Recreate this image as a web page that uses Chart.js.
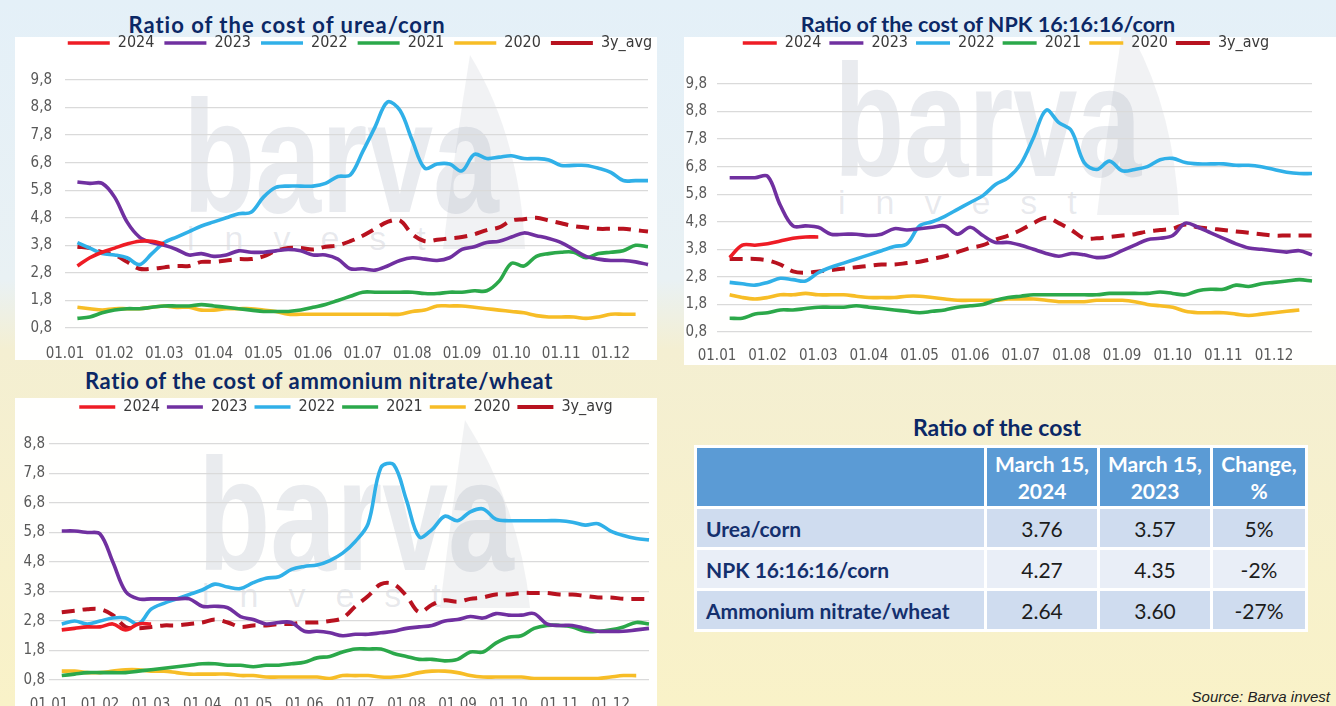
<!DOCTYPE html>
<html>
<head>
<meta charset="utf-8">
<script src="https://cdn.jsdelivr.net/npm/chart.js@4.4.1/dist/chart.umd.min.js"></script>
<style>
  body {
    margin: 0; width: 1336px; height: 706px; overflow: hidden; position: relative;
    background: linear-gradient(to bottom, #e4f0f8 0px, #e9f1f4 280px, #f4efd2 350px, #f9f2c8 706px);
    font-family: Lato, 'Open Sans', sans-serif;
  }
  .panel { position: absolute; background: rgba(255,255,255,0.97); overflow: hidden; }
  .panel svg { position: absolute; left: 0; top: 0; }
  canvas { position: absolute; }
  .title {
    position: absolute; color: #0b2866; font-weight: bold; white-space: nowrap;
    transform: translate(-50%, -50%); font-family: Lato, sans-serif;
  }
  .wm {
    position: absolute; color: rgba(110,120,145,0.15); font-family: 'Liberation Sans', sans-serif;
    font-weight: bold; white-space: nowrap; transform-origin: left top;
  }
  .wm2 {
    position: absolute; color: rgba(110,120,145,0.16); font-family: 'Liberation Sans', sans-serif;
    white-space: nowrap; letter-spacing: 30px;
  }
  table.cost {
    position: absolute; left: 694px; top: 445px; border-collapse: collapse;
    font-family: Lato, sans-serif; font-size: 21px;
  }
  table.cost td { border: 3px solid #fff; padding: 0; }
  table.cost tr.head td {
    background: #5b9bd5; color: #fff; font-weight: bold; text-align: center;
    height: 58px; line-height: 27px; font-size: 21px;
  }
  table.cost td.lab { color: #14306e; font-weight: bold; text-align: left; padding-left: 9px; }
  table.cost td.val { color: #1c1c1c; text-align: center; }
  table.cost tr.r1 td, table.cost tr.r3 td { background: #cfdcef; height: 38px; }
  table.cost tr.r2 td { background: #e9eef7; height: 38px; }
  .source {
    position: absolute; right: 6px; top: 688px; font-family: 'Liberation Sans', sans-serif;
    font-style: italic; font-size: 15px; color: #222;
  }
</style>
</head>
<body>

<div class="panel" style="left:15px; top:37px; width:642px; height:323px;">
  <svg width="642" height="323"><path d="M 455 18 Q 505 100 510 212 L 428 212 Q 440 110 455 18 Z" fill="rgba(120,130,150,0.10)"/></svg>
  <span class="wm" style="left:168px; top:28px; font-size:160px; transform:scaleX(0.74);">barva</span>
  <span class="wm2" style="left:172px; top:182px; font-size:34px;">invest</span>
</div>
<div class="panel" style="left:684px; top:37px; width:652px; height:328px;">
  <svg width="652" height="328"><path d="M 440 -16 Q 490 66 495 178 L 413 178 Q 425 76 440 -16 Z" fill="rgba(120,130,150,0.10)"/></svg>
  <span class="wm" style="left:150px; top:-8px; font-size:160px; transform:scaleX(0.72);">barva</span>
  <span class="wm2" style="left:154px; top:146px; font-size:34px;">invest</span>
</div>
<div class="panel" style="left:15px; top:398px; width:642px; height:308px;">
  <svg width="642" height="308"><path d="M 450 22 Q 505 110 515 210 L 425 210 Q 437 110 450 22 Z" fill="rgba(120,130,150,0.10)"/></svg>
  <span class="wm" style="left:183px; top:25px; font-size:160px; transform:scaleX(0.74);">barva</span>
  <span class="wm2" style="left:187px; top:178px; font-size:34px;">invest</span>
</div>

<div class="title" style="left:287px; top:24px; font-size:22px; letter-spacing:1px;">Ratio of the cost of urea/corn</div>
<div class="title" style="left:988px; top:24px; font-size:21.5px;">Ratio of the cost of NPK 16:16:16/corn</div>
<div class="title" style="left:319px; top:380px; font-size:22px; letter-spacing:0.6px;">Ratio of the cost of ammonium nitrate/wheat</div>
<div class="title" style="left:997px; top:427px; font-size:23px;">Ratio of the cost</div>

<canvas id="ureaChart" width="642" height="335" style="left:15px; top:25px;"></canvas>
<canvas id="npkChart" width="652" height="338" style="left:684px; top:27px;"></canvas>
<canvas id="nitrateChart" width="642" height="314" style="left:15px; top:392px;"></canvas>

<table class="cost">
  <tr class="head">
    <td style="width:287px;"></td>
    <td style="width:110px;">March 15,<br>2024</td>
    <td style="width:110px;">March 15,<br>2023</td>
    <td style="width:92px;">Change,<br>%</td>
  </tr>
  <tr class="r1"><td class="lab">Urea/corn</td><td class="val">3.76</td><td class="val">3.57</td><td class="val">5%</td></tr>
  <tr class="r2"><td class="lab">NPK 16:16:16/corn</td><td class="val">4.27</td><td class="val">4.35</td><td class="val">-2%</td></tr>
  <tr class="r3"><td class="lab">Ammonium nitrate/wheat</td><td class="val">2.64</td><td class="val">3.60</td><td class="val">-27%</td></tr>
</table>

<div class="source">Source: Barva invest</div>

<script>
// weekly points, month labels shown on the 1st
const months = ['01','02','03','04','05','06','07','08','09','10','11','12'];
const weekDays = ['01','08','15','22'];
const seriesNames = ['2024', '2023', '2022', '2021', '2020', '3y_avg'];
const seriesColors = ['#ee1c25', '#7030a0', '#30b0e8', '#2ba84a', '#f7bd26', '#b8121f'];

// --- urea / corn ---
const urea2024 = [null, 3.05,3.35,3.55,3.7,3.85,3.95,3.95,3.85];
const urea2023 = [null, 6.1,6.05,6.05,5.55,4.65,4.1,3.9,3.8,3.65,3.45,3.5,3.4,3.45,3.6,3.55,3.55,3.6,3.65,3.6,3.45,3.45,3.3,2.95,2.95,2.9,3.05,3.25,3.35,3.3,3.25,3.35,3.65,3.75,3.9,3.95,4.1,4.25,4.15,4.05,3.9,3.65,3.4,3.3,3.25,3.25,3.2,3.1];
const urea2022 = [null, 3.9,3.7,3.5,3.45,3.35,3.1,3.5,3.9,4.1,4.3,4.5,4.65,4.8,4.95,5.0,5.55,5.9,5.95,5.95,5.95,6.05,6.3,6.35,7.2,8.1,9.0,8.7,7.6,6.6,6.75,6.75,6.5,7.1,6.95,7.0,7.05,6.95,6.95,6.9,6.7,6.7,6.7,6.6,6.45,6.15,6.15,6.15];
const urea2021 = [null, 1.15,1.2,1.35,1.45,1.5,1.5,1.55,1.6,1.6,1.6,1.65,1.6,1.55,1.5,1.45,1.4,1.4,1.4,1.45,1.55,1.65,1.8,1.95,2.1,2.1,2.1,2.1,2.1,2.05,2.05,2.1,2.1,2.15,2.15,2.5,3.15,3.05,3.4,3.5,3.55,3.55,3.35,3.5,3.55,3.6,3.8,3.75];
const urea2020 = [null, 1.55,1.5,1.45,1.5,1.5,1.5,1.55,1.6,1.55,1.55,1.45,1.45,1.5,1.5,1.5,1.45,1.4,1.3,1.3,1.3,1.3,1.3,1.3,1.3,1.3,1.3,1.3,1.4,1.45,1.6,1.6,1.6,1.55,1.5,1.45,1.4,1.35,1.25,1.2,1.2,1.2,1.15,1.2,1.3,1.3,1.3];
const ureaAvg = [null, 3.75,3.7,3.55,3.45,3.2,2.95,2.95,3.0,3.05,3.05,3.2,3.2,3.25,3.3,3.3,3.4,3.6,3.7,3.7,3.65,3.75,3.8,3.95,4.15,4.4,4.65,4.7,4.2,3.95,4.0,4.05,4.1,4.2,4.35,4.45,4.7,4.75,4.8,4.7,4.6,4.5,4.45,4.4,4.4,4.4,4.35,4.3];

// --- NPK 16:16:16 / corn ---
const npk2024 = [null, 3.5,3.95,3.95,4.0,4.1,4.2,4.25,4.25];
const npk2023 = [null, 6.4,6.4,6.4,6.45,5.4,4.65,4.65,4.6,4.35,4.35,4.35,4.3,4.35,4.55,4.5,4.55,4.6,4.65,4.35,4.6,4.3,4.05,4.05,3.95,3.8,3.65,3.55,3.65,3.6,3.5,3.55,3.75,3.95,4.15,4.2,4.3,4.75,4.6,4.4,4.2,4.0,3.85,3.8,3.75,3.7,3.75,3.6];
const npk2022 = [null, 2.6,2.55,2.5,2.6,2.75,2.7,2.65,2.95,3.15,3.3,3.45,3.6,3.75,3.9,4.0,4.65,4.8,5.0,5.25,5.5,5.75,6.15,6.4,6.9,7.85,8.85,8.4,8.1,6.95,6.7,7.0,6.65,6.7,6.8,7.05,7.1,6.95,6.9,6.9,6.9,6.85,6.85,6.8,6.7,6.6,6.55,6.55];
const npk2021 = [null, 1.3,1.3,1.45,1.5,1.6,1.6,1.65,1.7,1.7,1.7,1.75,1.7,1.65,1.6,1.55,1.5,1.55,1.6,1.7,1.75,1.8,1.95,2.05,2.1,2.15,2.15,2.15,2.15,2.15,2.15,2.2,2.2,2.2,2.2,2.25,2.2,2.15,2.3,2.35,2.35,2.5,2.45,2.55,2.6,2.65,2.7,2.65];
const npk2020 = [null, 2.15,2.05,2.0,2.05,2.15,2.15,2.2,2.15,2.15,2.15,2.1,2.05,2.05,2.05,2.1,2.1,2.05,2.0,1.95,1.95,1.95,1.95,2.0,2.0,2.0,1.95,1.9,1.9,1.9,1.95,1.95,1.95,1.9,1.8,1.75,1.7,1.55,1.5,1.5,1.5,1.45,1.4,1.45,1.5,1.55,1.6];
const npkAvg = [null, 3.45,3.45,3.45,3.4,3.25,3.0,2.95,3.0,3.05,3.1,3.15,3.2,3.25,3.25,3.3,3.35,3.45,3.55,3.7,3.85,3.95,4.15,4.3,4.5,4.75,4.95,4.75,4.5,4.2,4.2,4.25,4.3,4.35,4.45,4.5,4.55,4.7,4.6,4.55,4.5,4.45,4.4,4.35,4.3,4.3,4.3,4.3];

// --- ammonium nitrate / wheat ---
const nitrate2024 = [null, 2.5,2.55,2.6,2.6,2.7,2.5,2.7,2.7];
const nitrate2023 = [null, 5.85,5.85,5.8,5.75,4.8,3.8,3.55,3.55,3.55,3.55,3.55,3.3,3.3,3.25,2.95,2.85,2.7,2.75,2.75,2.45,2.45,2.4,2.3,2.35,2.35,2.4,2.45,2.55,2.6,2.65,2.8,2.85,2.95,2.9,3.05,3.0,3.0,3.05,2.7,2.65,2.65,2.55,2.45,2.45,2.45,2.5,2.55];
const nitrate2022 = [null, 2.7,2.8,2.7,2.8,2.9,2.9,2.7,3.2,3.4,3.55,3.7,3.85,4.05,3.95,3.9,4.1,4.25,4.3,4.55,4.65,4.7,4.85,5.1,5.5,6.1,8.0,8.1,6.9,5.65,5.9,6.35,6.2,6.5,6.6,6.25,6.2,6.2,6.2,6.2,6.2,6.15,6.05,6.1,5.85,5.7,5.6,5.55];
const nitrate2021 = [null, 0.95,1.0,1.05,1.05,1.05,1.05,1.1,1.15,1.2,1.25,1.3,1.35,1.35,1.3,1.3,1.25,1.3,1.3,1.35,1.4,1.55,1.6,1.75,1.85,1.85,1.85,1.7,1.6,1.5,1.5,1.45,1.5,1.75,1.75,2.05,2.25,2.3,2.55,2.65,2.65,2.6,2.45,2.45,2.5,2.6,2.75,2.7];
const nitrate2020 = [null, 1.1,1.1,1.05,1.05,1.1,1.15,1.15,1.1,1.1,1.05,1.0,1.0,1.0,1.0,0.95,0.95,0.9,0.9,0.9,0.9,0.9,0.85,0.95,0.95,0.95,0.9,0.9,0.95,1.05,1.1,1.1,1.05,0.95,0.9,0.9,0.9,0.9,0.85,0.85,0.85,0.85,0.85,0.85,0.9,0.95,0.95];
const nitrateAvg = [null, 3.1,3.15,3.2,3.2,3.0,2.6,2.55,2.6,2.65,2.65,2.7,2.75,2.85,2.75,2.6,2.65,2.65,2.7,2.7,2.75,2.75,2.8,2.9,3.3,3.65,4.05,4.05,3.65,3.1,3.35,3.5,3.45,3.55,3.6,3.7,3.7,3.75,3.75,3.75,3.7,3.7,3.65,3.6,3.6,3.55,3.55,3.55];

const weekLabels = [];
for (const m of months) for (const d of weekDays) weekLabels.push(d + '.' + m);

const narrow = "'Liberation Sans Narrow', 'DejaVu Sans Condensed', 'Roboto Condensed', Roboto, sans-serif";

function makeChart(id, series, yMax, geo) {
  const datasets = series.map((data, i) => ({
    label: seriesNames[i],
    data: data,
    borderColor: seriesColors[i],
    backgroundColor: seriesColors[i],
    borderWidth: i === 5 ? 4 : 3.6,
    borderDash: i === 5 ? [13, 8] : [],
    pointRadius: 0,
    tension: 0.35,
    fill: false
  }));

  return new Chart(document.getElementById(id), {
    type: 'line',
    data: { labels: weekLabels, datasets: datasets },
    options: {
      responsive: false,
      animation: false,
      layout: { padding: { left: 0, right: geo.padR, top: 0, bottom: 0 } },
      plugins: {
        legend: {
          position: 'top',
          labels: {
            usePointStyle: true,
            pointStyle: 'line',
            pointStyleWidth: geo.boxW,
            padding: geo.itemPad,
            color: '#3a3a3a',
            font: { family: narrow, size: 16 }
          }
        },
        tooltip: { enabled: false }
      },
      scales: {
        x: {
          type: 'category',
          grid: { display: false },
          border: { display: false },
          afterFit: (s) => { s.height = geo.xH; },
          ticks: {
            autoSkip: false,
            maxRotation: 0,
            padding: geo.xPad,
            color: '#595959',
            font: { family: narrow, size: 15 },
            callback: function (val, i) { return i % 4 === 0 ? this.getLabelForValue(val) : ''; }
          }
        },
        y: {
          min: 0.8,
          max: yMax,
          border: { display: false },
          grid: { color: '#dadada', lineWidth: 1.3, drawTicks: false },
          afterFit: (s) => { s.width = geo.yW; },
          ticks: {
            stepSize: 1,
            padding: geo.yPad,
            color: '#595959',
            font: { family: narrow, size: 15 },
            callback: (v) => v.toFixed(1).replace('.', ',')
          }
        }
      }
    },
    plugins: [{
      id: 'legendPlace',
      beforeInit(chart) {
        const fit = chart.legend.fit;
        chart.legend.fit = function () { fit.call(this); this.height = geo.legendH; };
      },
      beforeDraw(chart) {
        chart.legend.left += geo.legendDx;
        chart.legend.right += geo.legendDx;
      }
    }]
  });
}

makeChart('ureaChart', [urea2024, urea2023, urea2022, urea2021, urea2020, ureaAvg], 9.8,
  { legendH: 55, legendDx: 27, boxW: 42, itemPad: 10, yW: 50, yPad: 13, xH: 32, xPad: 9, padR: 6 });
makeChart('npkChart', [npk2024, npk2023, npk2022, npk2021, npk2020, npkAvg], 9.8,
  { legendH: 57, legendDx: 8, boxW: 34, itemPad: 8, yW: 33, yPad: 10, xH: 33, xPad: 7, padR: 24 });
makeChart('nitrateChart', [nitrate2024, nitrate2023, nitrate2022, nitrate2021, nitrate2020, nitrateAvg], 8.8,
  { legendH: 52, legendDx: 10, boxW: 36, itemPad: 7, yW: 34, yPad: 4, xH: 26, xPad: 8, padR: 0 });
</script>
</body>
</html>
